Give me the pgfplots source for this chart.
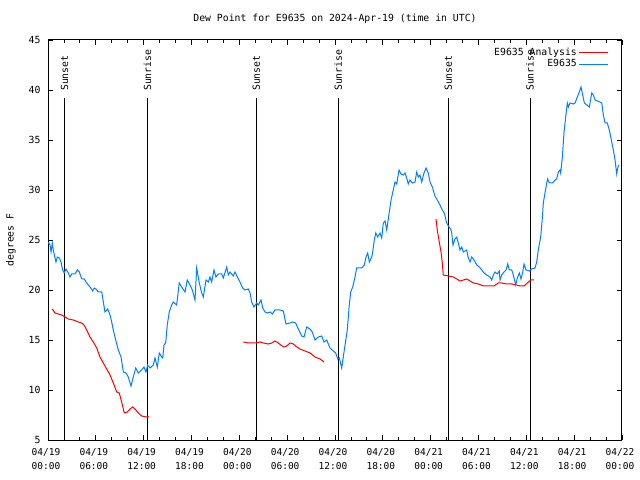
\documentclass[border=0pt]{standalone}
\usepackage{pgfplots}
\pgfplotsset{compat=1.18}
\usepackage{fontspec}
\setmainfont{DejaVu Sans Mono}
\definecolor{ablue}{RGB}{0,128,255}
\definecolor{ared}{RGB}{255,0,0}
\begin{document}
\fontsize{9.8bp}{12bp}\selectfont
\begin{tikzpicture}
\path[use as bounding box] (0,0) rectangle (640bp,480bp);
\begin{axis}[
  at={(48bp,40bp)}, anchor=south west,
  scale only axis, width=574bp, height=400bp,
  xmin=0, xmax=72, ymin=5, ymax=45,
  xtick={0,6,...,72},
  xticklabels={{04/19\\00:00},{04/19\\06:00},{04/19\\12:00},{04/19\\18:00},{04/20\\00:00},{04/20\\06:00},{04/20\\12:00},{04/20\\18:00},{04/21\\00:00},{04/21\\06:00},{04/21\\12:00},{04/21\\18:00},{04/22\\00:00}},
  xticklabel style={align=center, font=\fontsize{9.5bp}{14bp}\selectfont, yshift=-5bp, xshift=-2bp},
  minor xtick={0,2,...,72},
  ytick={5,10,...,45},
  tick align=inside, major tick length=5bp, minor tick length=3bp,
  tick style={black, line width=0.8bp},
  axis line style={black, line width=1bp},
  /pgf/number format/assume math mode=true,
  yticklabel style={font=\fontsize{9.8bp}{12bp}\selectfont, xshift=-4bp},
  every axis y label/.style={at={([xshift=-37bp]axis description cs:0,0.5)}, rotate=90, anchor=center},
  ylabel={degrees F},
  unbounded coords=jump,
  legend style={draw=none, fill=none, at={(rel axis cs:1,1)}, anchor=north east, xshift=-10bp, yshift=-4bp, row sep=-1.5bp, font=\fontsize{9.8bp}{12bp}\selectfont},
  legend cell align=right,
  legend plot pos=right,
  legend image code/.code={\draw[#1] (0bp,0bp) -- (29bp,0bp);},
  clip=true,
]
% Sunset / sunrise lines
\addplot[black, line width=1bp, forget plot] coordinates {(2.07,5) (2.07,39.2)};
\addplot[black, line width=1bp, forget plot] coordinates {(12.48,5) (12.48,39.2)};
\addplot[black, line width=1bp, forget plot] coordinates {(26.12,5) (26.12,39.2)};
\addplot[black, line width=1bp, forget plot] coordinates {(36.41,5) (36.41,39.2)};
\addplot[black, line width=1bp, forget plot] coordinates {(50.20,5) (50.20,39.2)};
\addplot[black, line width=1bp, forget plot] coordinates {(60.46,5) (60.46,39.2)};
\node[rotate=90, anchor=west, inner sep=0pt, xshift=1bp] at (axis cs:2.07,39.8) {Sunset};
\node[rotate=90, anchor=west, inner sep=0pt, xshift=1bp] at (axis cs:12.48,39.8) {Sunrise};
\node[rotate=90, anchor=west, inner sep=0pt, xshift=1bp] at (axis cs:26.12,39.8) {Sunset};
\node[rotate=90, anchor=west, inner sep=0pt, xshift=1bp] at (axis cs:36.41,39.8) {Sunrise};
\node[rotate=90, anchor=west, inner sep=0pt, xshift=1bp] at (axis cs:50.20,39.8) {Sunset};
\node[rotate=90, anchor=west, inner sep=0pt, xshift=1bp] at (axis cs:60.46,39.8) {Sunrise};

\addplot[ared, line width=1bp] table {
x y
0.54 18.1
0.88 17.7
1.29 17.6
1.72 17.5
2.13 17.3
2.55 17.1
3.17 17.0
3.80 16.8
4.23 16.7
4.52 16.5
4.85 16.0
5.27 15.3
5.68 14.8
6.11 14.2
6.52 13.3
6.94 12.7
7.36 12.1
7.78 11.5
8.19 10.7
8.62 9.8
8.94 9.7
9.24 8.8
9.57 7.7
9.95 7.8
10.29 8.1
10.62 8.3
10.91 8.1
11.33 7.7
11.75 7.4
12.29 7.3
12.71 7.3
13.0 nan
24.50 14.8
25.13 14.7
25.97 14.7
26.59 14.8
27.01 14.7
27.63 14.6
28.06 14.7
28.47 14.9
28.89 14.7
29.19 14.5
29.60 14.3
29.94 14.4
30.36 14.7
30.77 14.6
31.20 14.3
31.61 14.1
32.24 13.9
32.87 13.7
33.49 13.3
34.12 13.1
34.62 12.8
35.0 nan
48.67 27.1
48.83 26.0
49.08 24.8
49.30 23.8
49.46 22.7
49.58 21.5
50.21 21.4
50.84 21.3
51.27 21.1
51.68 20.9
52.10 21.0
52.52 21.1
52.94 20.9
53.36 20.7
53.98 20.6
54.61 20.4
55.23 20.4
55.94 20.4
56.48 20.7
56.91 20.7
57.54 20.6
58.17 20.6
58.79 20.5
59.21 20.4
59.71 20.4
60.12 20.7
60.55 21.0
60.96 21.0
};
\addlegendentry{E9635 Analysis}

\addplot[ablue, line width=1bp] table {
x y
0.00 24.8
0.25 24.5
0.38 23.8
0.54 24.7
0.66 24.0
0.88 23.2
1.00 22.8
1.17 23.3
1.42 23.2
1.63 22.8
1.84 22.0
2.04 21.7
2.26 22.1
2.55 21.7
2.76 21.3
2.97 21.6
3.39 21.6
3.68 22.0
3.93 21.8
4.23 21.1
4.55 21.1
4.85 20.7
5.27 20.3
5.61 19.9
5.81 20.2
6.02 20.1
6.31 19.8
6.74 19.8
6.94 18.8
7.15 17.8
7.49 18.1
7.78 17.5
7.99 16.8
8.19 16.0
8.49 15.0
8.82 14.0
9.16 13.3
9.45 11.8
9.78 11.7
10.07 11.3
10.41 10.4
10.70 11.3
11.00 12.2
11.33 11.7
11.75 12.0
12.04 12.3
12.29 11.8
12.51 12.5
12.80 12.2
13.21 12.5
13.42 13.2
13.71 12.3
13.96 13.7
14.26 13.3
14.39 13.2
14.55 14.5
14.76 14.7
14.96 16.5
15.21 17.8
15.51 18.5
15.71 18.8
16.14 18.5
16.46 20.7
16.77 20.3
17.19 19.8
17.47 21.0
17.81 20.5
18.10 20.0
18.44 19.0
18.65 22.2
18.98 20.7
19.28 19.7
19.48 19.3
19.82 21.0
20.11 20.8
20.32 21.3
20.53 20.8
20.82 22.0
21.07 21.3
21.36 21.6
21.79 21.6
21.99 21.2
22.42 22.3
22.62 21.5
22.83 21.8
23.24 21.4
23.46 21.8
23.75 21.3
24.08 20.8
24.42 20.2
24.71 20.0
25.13 20.1
25.34 19.7
25.55 18.8
25.84 18.3
26.18 18.7
26.38 18.5
26.72 19.0
26.93 18.2
27.22 17.8
27.51 17.7
27.85 17.8
28.14 17.6
28.47 18.0
29.10 18.0
29.52 17.9
29.85 16.6
30.36 16.7
30.70 16.8
31.07 16.7
31.40 16.1
31.82 15.4
32.11 15.3
32.45 16.3
32.87 16.1
33.15 15.8
33.49 15.0
33.91 15.3
34.33 15.4
34.62 14.8
34.96 15.0
35.37 14.2
35.79 13.9
36.09 13.7
36.34 13.1
36.54 13.2
36.84 12.2
37.04 13.3
37.26 14.5
37.54 16.0
37.79 18.5
37.97 19.8
38.22 20.3
38.51 21.3
38.72 22.2
39.35 22.2
39.68 22.5
39.89 23.3
40.10 23.7
40.31 22.8
40.61 23.3
40.73 23.8
40.93 25.0
41.11 25.7
41.36 25.3
41.65 25.7
41.86 25.2
42.06 26.7
42.28 26.9
42.49 26.0
42.81 27.8
43.03 29.0
43.31 30.0
43.53 30.8
43.74 30.6
44.03 32.0
44.28 31.6
44.57 31.5
44.78 31.7
44.99 31.2
45.19 30.6
45.41 31.0
45.70 30.7
46.04 30.8
46.25 31.8
46.45 31.3
46.66 31.5
46.88 30.8
47.16 31.7
47.42 32.2
47.70 31.7
47.92 30.8
48.21 30.3
48.54 29.4
48.83 29.0
49.17 28.5
49.46 28.0
49.71 27.7
50.01 26.7
50.30 26.3
50.51 26.1
50.64 25.7
50.80 24.5
51.05 25.1
51.27 25.3
51.47 24.7
51.68 24.0
51.89 24.3
52.10 23.8
52.52 24.0
52.73 23.2
52.94 22.8
53.15 23.3
53.44 23.0
53.78 22.5
54.10 22.3
54.41 22.0
54.69 21.7
55.03 21.5
55.44 21.3
55.66 21.0
55.86 21.5
56.07 21.8
56.36 21.6
56.61 21.9
56.70 21.0
56.91 21.5
57.20 21.8
57.45 22.0
57.67 22.6
57.87 22.0
58.17 22.0
58.37 21.5
58.67 20.5
58.87 21.2
59.12 21.7
59.33 21.1
59.55 21.8
59.71 22.6
59.96 22.0
60.37 21.9
60.67 22.1
61.09 22.2
61.30 22.8
61.50 24.0
61.80 25.3
62.01 27.2
62.13 28.7
62.34 29.7
62.56 30.7
62.68 31.1
62.88 30.7
63.31 30.7
63.60 31.0
63.81 31.1
64.01 31.8
64.23 32.0
64.31 31.7
64.52 33.3
64.73 35.8
64.94 37.3
65.14 38.7
65.27 38.3
65.48 38.7
65.90 38.6
66.11 38.7
66.40 39.3
66.65 39.8
66.86 40.3
67.07 39.5
67.28 38.7
67.90 38.3
68.21 39.7
68.41 39.5
68.62 39.0
68.91 38.9
69.25 38.8
69.46 38.7
69.66 37.5
69.87 36.7
70.16 36.7
70.41 36.0
70.59 35.3
70.71 34.8
70.91 34.0
71.13 33.0
71.25 32.2
71.34 31.6
71.46 32.2
71.59 32.5
};
\addlegendentry{E9635}
\end{axis}
\node[anchor=center] at (335bp,461bp) {Dew Point for E9635 on 2024-Apr-19 (time in UTC)};
\end{tikzpicture}
\end{document}
